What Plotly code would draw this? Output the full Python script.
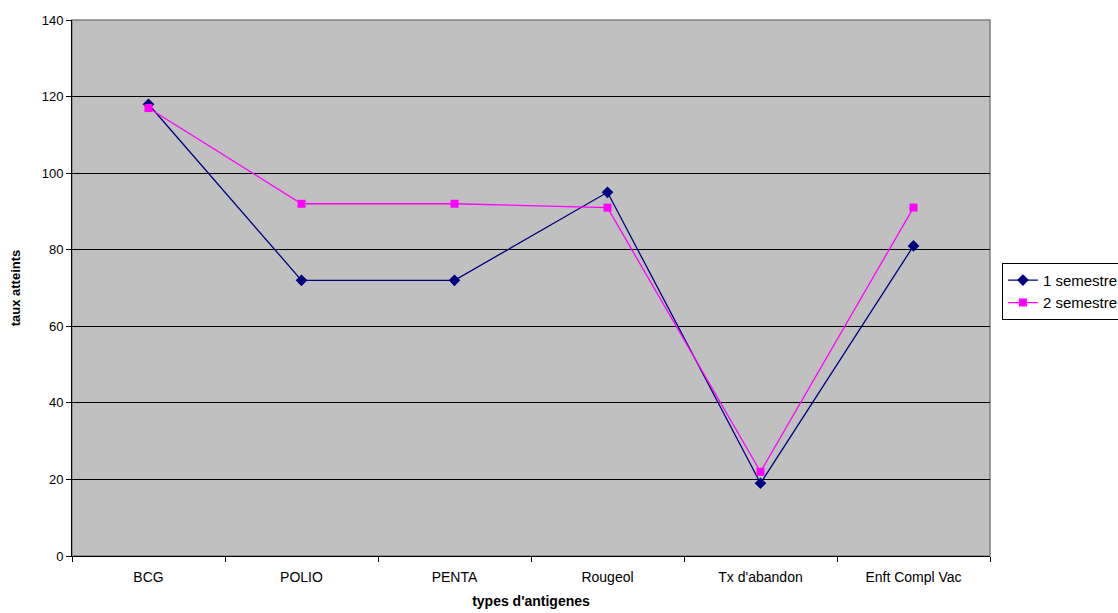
import plotly.graph_objects as go

categories = ["BCG", "POLIO", "PENTA", "Rougeol", "Tx d'abandon", "Enft Compl Vac"]
semestre_1 = [118, 72, 72, 95, 19, 81]
semestre_2 = [117, 92, 92, 91, 22, 91]
y_ticks = [0, 20, 40, 60, 80, 100, 120, 140]

font_family = "Liberation Sans, Arial, sans-serif"

fig = go.Figure()
fig.add_trace(go.Scatter(
    x=categories, y=semestre_1, name="1 semestre", mode="lines+markers",
    line=dict(color="#000080", width=1.3),
    marker=dict(symbol="diamond", size=9, color="#000080"),
))
fig.add_trace(go.Scatter(
    x=categories, y=semestre_2, name="2 semestre", mode="lines+markers",
    line=dict(color="#FF00FF", width=1.3),
    marker=dict(symbol="square", size=8, color="#FF00FF"),
))

# grey frame around the plotting area
fig.add_shape(type="rect", xref="paper", yref="paper", x0=0, y0=0, x1=1, y1=1,
              line=dict(color="#808080", width=1.5), layer="below")

fig.update_layout(
    width=1118, height=613,
    margin=dict(l=72, r=128, t=20, b=57, autoexpand=False),
    paper_bgcolor="white", plot_bgcolor="#C0C0C0",
    font=dict(family=font_family, size=13, color="black"),
    showlegend=True,
    legend=dict(
        x=1.013, y=0.547, xanchor="left", yanchor="top",
        bgcolor="white", bordercolor="black", borderwidth=1,
        font=dict(size=15, family=font_family), itemwidth=30,
        tracegroupgap=0,
    ),
    xaxis=dict(
        type="category", range=[-0.5, 5.5], tickson="boundaries",
        ticks="outside", ticklen=5, tickcolor="black",
        showline=True, linecolor="black", linewidth=1,
        showgrid=False, zeroline=False,
        tickfont=dict(size=14), ticklabelstandoff=8,
        title=dict(text="<b>types d'antigenes</b>", font=dict(size=14), standoff=12),
    ),
    yaxis=dict(
        range=[0, 140], tickvals=y_ticks, ticks="outside", ticklen=5, tickcolor="black",
        showline=True, linecolor="black", linewidth=1,
        showgrid=True, gridcolor="black", gridwidth=1, zeroline=False,
        tickfont=dict(size=13),
        title=dict(text="<b>taux atteints</b>", font=dict(size=13), standoff=18),
    ),
)

fig.write_html("out.html")
